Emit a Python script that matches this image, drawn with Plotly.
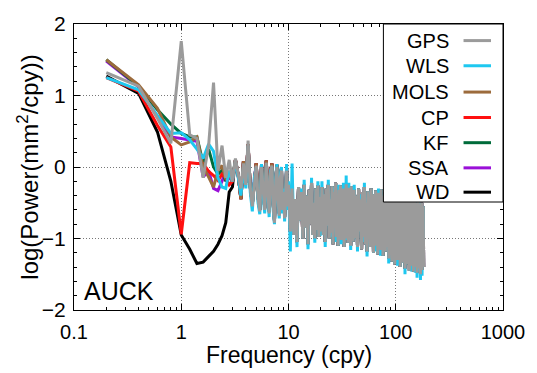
import plotly.graph_objects as go

# ---------------- data ----------------
freq_low = [0.2, 0.4, 0.6, 0.8, 1.0, 1.2, 1.4, 1.6, 1.8, 2.0, 2.2, 2.4, 2.6, 2.8, 3.0]
freq_mid = [3.2, 3.4, 3.6, 3.8, 4.0, 4.2, 4.4, 4.6, 4.8, 5.0, 5.2, 5.4, 5.6, 5.8, 6.0,
            6.2, 6.4, 6.6, 6.8, 7.0, 7.2, 7.4, 7.6, 7.8, 8.0, 8.2, 8.4, 8.6, 8.8, 9.0,
            9.2, 9.4, 9.6, 9.8, 10.0]
freq_high = [10.4, 10.8, 11.2, 11.6, 12.0, 12.4, 12.8, 13.2, 13.6, 14.0,
             14.4, 14.8, 15.2, 15.6, 16.0, 16.4, 16.8, 17.2, 17.6, 18.0,
             18.4, 18.8, 19.2, 19.6, 20.0,
             20.5, 21.0, 21.5, 22.0, 22.5, 23.0, 23.5, 24.0, 24.5, 25.0,
             25.5, 26.0, 26.5, 27.0, 27.5, 28.0, 28.5, 29.0, 29.5, 30.0,
             30.5, 31.0, 31.5, 32.0, 32.5, 33.0, 33.5, 34.0, 34.5, 35.0,
             35.5, 36.0, 36.5, 37.0, 37.5, 38.0, 38.5, 39.0, 39.5, 40.0,
             41, 42, 43, 44, 45, 46, 47, 48, 49, 50,
             51, 52, 53, 54, 55, 56, 57, 58, 59, 60,
             61, 62, 63, 64, 65, 66, 67, 68, 69, 70,
             71, 72, 73, 74, 75, 76, 77, 78, 79, 80,
             81.5, 83.0, 84.5, 86.0, 87.5, 89.0, 90.5, 92.0, 93.5, 95.0,
             96.5, 98.0, 99.5, 101.0, 102.5, 104.0, 105.5, 107.0, 108.5, 110.0,
             111.5, 113.0, 114.5, 116.0, 117.5, 119.0, 120.5, 122.0, 123.5, 125.0,
             126.5, 128.0, 129.5, 131.0, 132.5, 134.0, 135.5, 137.0, 138.5, 140.0,
             141.5, 143.0, 144.5, 146.0, 147.5, 149.0, 150.5, 152.0, 153.5, 155.0,
             156.5, 158.0, 159.5, 161.0, 162.5, 164.0, 165.5, 167.0, 168.5, 170.0,
             171.5, 173.0, 174.5, 176.0, 177.5, 179.0, 180.5, 182.0]

low_gps = [1.32, 1.13, 0.68, 0.33, 1.76, 0.45, 0.40, -0.15, 0.30, 1.18, -0.05, 0.30, -0.15, 0.10, -0.20]
low_wls = [1.25, 1.08, 0.72, 0.47, 0.48, 0.38, 0.25, 0.12, 0.32, 0.22, -0.15, -0.28, -0.30, -0.05, -0.20]
low_mols = [1.50, 1.15, 0.82, 0.42, 0.31, 0.35, 0.42, 0.00, -0.14, -0.28, -0.05, 0.02, -0.17, -0.10, -0.20]
low_cp = [1.25, 1.06, 0.58, 0.28, -0.94, 0.06, 0.05, 0.05, -0.06, -0.12, -0.19, -0.10, -0.15, -0.25, -0.20]
low_kf = [1.50, 1.13, 0.80, 0.60, 0.47, 0.42, 0.42, 0.05, 0.25, 0.00, -0.10, -0.05, -0.20, -0.10, -0.15]
low_ssa = [1.48, 1.12, 0.70, 0.42, 0.40, 0.38, 0.36, -0.14, -0.05, -0.30, -0.33, -0.20, -0.05, -0.15, -0.20]
low_wd = [1.27, 1.03, 0.49, -0.20, -0.95, -1.15, -1.35, -1.33, -1.25, -1.18, -1.08, -0.96, -0.78, -0.35, -0.28]

mid_gps = [0.12, -0.10, -0.30, 0.05, -0.25, 0.37, -0.30, -0.55, -0.20, 0.02,
           -0.45, -0.62, 0.00, -0.35, -0.60, 0.06, -0.40, -0.65, -0.10, 0.02,
           -0.55, -0.78, -0.20, 0.00, -0.45, -0.68, -0.15, -0.05, -0.60, -0.35,
           -0.72, -0.20, -0.05, -0.55, -0.25]
mid_wls = [0.08, -0.15, -0.40, 0.00, -0.30, 0.30, -0.35, -0.62, -0.15, 0.00,
           -0.50, -0.66, 0.04, -0.40, -0.65, 0.02, -0.45, -0.70, -0.05, 0.00,
           -0.60, -0.80, -0.15, 0.04, -0.50, -0.72, -0.10, 0.00, -0.65, -0.30,
           -0.76, -0.15, 0.04, -0.60, -0.20]
mid_other = [0.10, -0.12, -0.45, 0.08, -0.22, 0.32, -0.28, -0.52, -0.18, 0.05,
             -0.42, -0.60, 0.03, -0.32, -0.58, 0.09, -0.38, -0.62, -0.08, 0.05,
             -0.52, -0.75, -0.18, 0.03, -0.42, -0.65, -0.12, -0.02, -0.58, -0.32,
             -0.70, -0.18, -0.02, -0.52, -0.22]

hf_gps = [-0.90, -0.30, -0.95, -0.45, -1.05, -0.28, -0.75, -0.35, -1.00, -0.25,
          -0.85, -0.40, -1.08, -0.32, -0.80, -0.22, -0.95, -0.50, -1.00, -0.30,
          -0.88, -0.26, -0.98, -0.42, -0.90,
          -0.28, -0.95, -0.38, -1.05, -0.30, -0.82, -0.25, -1.00, -0.45, -0.92,
          -0.27, -1.08, -0.35, -0.85, -0.22, -0.98, -0.40, -1.10, -0.32, -0.90,
          -0.26, -1.02, -0.48, -0.88, -0.30, -1.12, -0.36, -0.95, -0.24, -1.00,
          -0.42, -1.06, -0.29, -0.86, -0.33, -1.10, -0.27, -0.96, -0.40, -1.04,
          -0.32, -1.00, -0.40, -1.12, -0.30, -0.90, -0.45, -1.15, -0.35, -0.98,
          -0.28, -1.08, -0.50, -1.18, -0.34, -0.92, -0.42, -1.12, -0.30, -1.02,
          -0.38, -1.20, -0.46, -0.96, -0.33, -1.10, -0.52, -1.22, -0.36, -1.00,
          -0.44, -1.16, -0.31, -1.06, -0.48, -1.24, -0.40, -1.02, -0.35, -1.18,
          -0.42, -1.12, -0.38, -1.28, -0.50, -1.05, -0.45, -1.32, -0.40, -1.18,
          -0.55, -1.36, -0.44, -1.10, -0.48, -1.30, -0.38, -1.22, -0.52, -1.40,
          -0.46, -1.15, -0.42, -1.34, -0.56, -1.25, -0.45, -1.42, -0.50, -1.20,
          -0.40, -1.36, -0.58, -1.28, -0.47, -1.45, -0.52, -1.18, -0.44, -1.38,
          -0.60, -1.30, -0.48, -1.46, -0.55, -1.24, -0.46, -1.40, -0.62, -1.32,
          -0.50, -1.48, -0.57, -1.26, -0.48, -1.42, -0.64, -1.35, -0.52, -1.50,
          -0.58, -1.30, -0.50, -1.44, -0.60, -1.38, -0.55, -1.40]
hf_wls = [-1.18, 0.05, -0.95, -0.45, -1.12, -0.28, -0.75, -0.30, -1.00, -0.18,
          -0.85, -0.40, -1.15, -0.32, -0.80, -0.15, -0.95, -0.50, -1.06, -0.30,
          -0.88, -0.20, -0.98, -0.42, -0.96,
          -0.20, -0.95, -0.38, -1.12, -0.30, -0.82, -0.18, -1.00, -0.45, -0.98,
          -0.27, -1.08, -0.28, -0.85, -0.22, -1.05, -0.40, -1.10, -0.25, -0.90,
          -0.26, -1.08, -0.48, -0.88, -0.22, -1.12, -0.36, -1.02, -0.12, -1.00,
          -0.42, -1.06, -0.22, -0.86, -0.33, -1.16, -0.27, -0.96, -0.30, -1.04,
          -0.25, -1.00, -0.40, -1.18, -0.30, -0.90, -0.38, -1.15, -0.35, -1.05,
          -0.22, -1.08, -0.50, -1.25, -0.34, -0.92, -0.35, -1.12, -0.30, -1.10,
          -0.38, -1.20, -0.40, -0.96, -0.33, -1.18, -0.52, -1.22, -0.30, -1.00,
          -0.44, -1.24, -0.31, -1.06, -0.42, -1.24, -0.40, -1.10, -0.35, -1.18,
          -0.36, -1.12, -0.38, -1.35, -0.50, -1.05, -0.38, -1.32, -0.40, -1.25,
          -0.55, -1.36, -0.38, -1.10, -0.48, -1.38, -0.38, -1.22, -0.45, -1.40,
          -0.46, -1.22, -0.42, -1.34, -0.50, -1.25, -0.45, -1.50, -0.50, -1.20,
          -0.40, -1.36, -0.52, -1.28, -0.47, -1.45, -0.45, -1.18, -0.44, -1.46,
          -0.60, -1.30, -0.48, -1.46, -0.50, -1.24, -0.46, -1.48, -0.62, -1.32,
          -0.50, -1.55, -0.57, -1.26, -0.42, -1.42, -0.64, -1.45, -0.52, -1.58,
          -0.58, -1.30, -0.50, -1.52, -0.60, -1.38, -0.55, -1.40]

series_names = ["GPS", "WLS", "MOLS", "CP", "KF", "SSA", "WD"]
colors = {"GPS": "#9b9b9b", "WLS": "#1ec8f0", "MOLS": "#9c6b3c", "CP": "#ff1010",
          "KF": "#006b3a", "SSA": "#9a10d8", "WD": "#000000"}

freqs = freq_low + freq_mid + freq_high
series = {
    "GPS": low_gps + mid_gps + hf_gps,
    "WLS": low_wls + mid_wls + hf_wls,
    "MOLS": low_mols + mid_other + hf_gps,
    "CP": low_cp + mid_other + hf_gps,
    "KF": low_kf + mid_other + hf_gps,
    "SSA": low_ssa + mid_other + hf_gps,
    "WD": low_wd + mid_other + hf_gps,
}

# ---------------- figure ----------------
fig = go.Figure()
for name in reversed(series_names):
    fig.add_trace(go.Scatter(x=freqs, y=series[name], mode="lines", name=name,
                             line=dict(color=colors[name], width=3), showlegend=False))

FONT = "Liberation Sans, Arial, sans-serif"
fig.update_layout(
    width=537, height=373,
    margin=dict(l=74, r=29, t=16, b=63),
    plot_bgcolor="white", paper_bgcolor="white",
    font=dict(family=FONT, color="black"),
    showlegend=False,
)
GRID = dict(showgrid=True, gridcolor="#777777", griddash="1px,2px", gridwidth=1)
fig.update_xaxes(
    type="log", range=[-1, 3], dtick=1,
    ticks="inside", ticklen=6, tickwidth=1, tickcolor="black",
    showline=True, linecolor="black", linewidth=1, mirror="allticks",
    minor=dict(ticks="inside", ticklen=3, tickcolor="black", dtick="D1", showgrid=False),
    tickfont=dict(size=20), ticklabelstandoff=4, zeroline=False, **GRID,
)
fig.update_yaxes(
    range=[-2, 2], dtick=1,
    ticks="inside", ticklen=6, tickwidth=1, tickcolor="black",
    showline=True, linecolor="black", linewidth=1, mirror="allticks",
    minor=dict(ticks="inside", ticklen=3, tickcolor="black", dtick=0.2, showgrid=False),
    tickfont=dict(size=21), ticklabelstandoff=3, zeroline=False, **GRID,
)

# axis titles & label
fig.add_annotation(text="Frequency (cpy)", xref="paper", yref="paper", x=0.5, y=-0.158,
                   xanchor="center", yanchor="middle", showarrow=False, font=dict(size=23))
fig.add_annotation(text="log(Power(mm<sup>2</sup>/cpy))", xref="paper", yref="paper",
                   x=-0.108, y=0.5, textangle=-90, xanchor="center", yanchor="middle",
                   showarrow=False, font=dict(size=24))
fig.add_annotation(text="AUCK", xref="paper", yref="paper", x=0.018, y=0.065,
                   xanchor="left", yanchor="middle", showarrow=False, font=dict(size=25))

# custom legend (text right, line sample on the right)
fig.add_shape(type="rect", xref="paper", yref="paper", x0=0.7212, x1=1.0, y0=0.3776, y1=1.0,
              fillcolor="white", line=dict(color="black", width=1), layer="above")
leg_y = [0.942, 0.854, 0.762, 0.673, 0.585, 0.497, 0.412]
for name, yy in zip(series_names, leg_y):
    fig.add_annotation(text=name, xref="paper", yref="paper", x=0.878, y=yy,
                       xanchor="right", yanchor="middle", showarrow=False, font=dict(size=20))
    fig.add_shape(type="line", xref="paper", yref="paper", x0=0.908, x1=0.972, y0=yy, y1=yy,
                  line=dict(color=colors[name], width=3), layer="above")

fig.write_html("out.html")
